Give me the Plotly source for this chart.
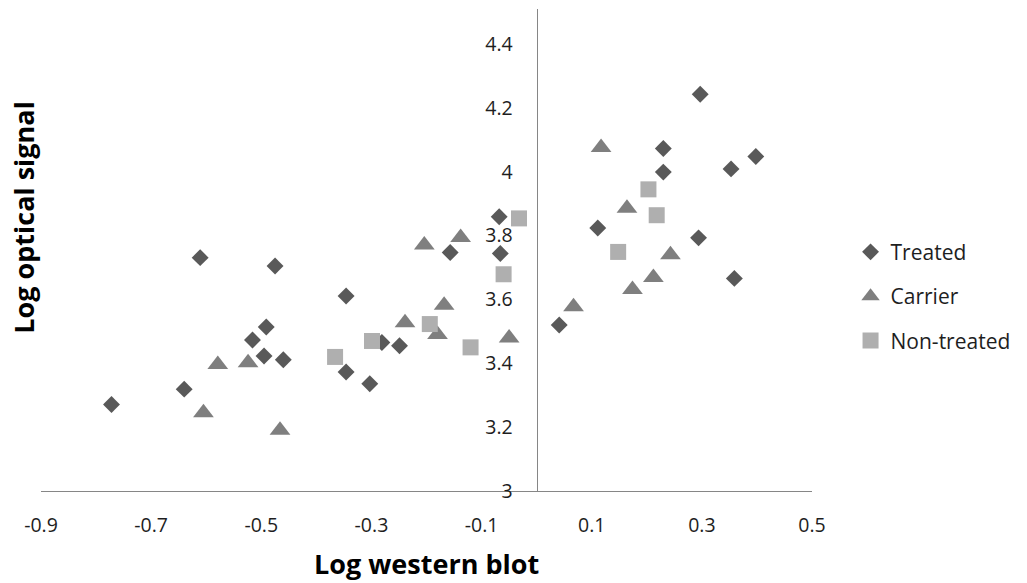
import plotly.graph_objects as go

# ---- data ----
treated_x = [-0.611, -0.475, -0.491, -0.516, -0.495, -0.460, -0.640, -0.772,
             -0.068, -0.157, -0.066, -0.346, -0.249, -0.346, -0.303, -0.281,
             0.297, 0.230, 0.230, 0.353, 0.398, 0.111, 0.294, 0.359, 0.041]
treated_y = [3.731, 3.705, 3.514, 3.473, 3.423, 3.411, 3.319, 3.271,
             3.859, 3.747, 3.744, 3.611, 3.455, 3.373, 3.336, 3.465,
             4.243, 4.073, 3.999, 4.009, 4.048, 3.824, 3.793, 3.666, 3.520]

carrier_x = [-0.579, -0.524, -0.605, -0.466, -0.204, -0.138, -0.168, -0.239,
             -0.180, -0.050, 0.117, 0.164, 0.243, 0.212, 0.174, 0.067]
carrier_y = [3.396, 3.402, 3.245, 3.190, 3.771, 3.794, 3.582, 3.527,
             3.490, 3.479, 4.076, 3.886, 3.740, 3.669, 3.631, 3.577]

nontreated_x = [-0.032, -0.060, -0.299, -0.194, -0.120, -0.366, 0.203, 0.218, 0.148]
nontreated_y = [3.854, 3.679, 3.470, 3.523, 3.450, 3.420, 3.945, 3.864, 3.749]

series_names = ["Treated", "Carrier", "Non-treated"]

x_tick_vals = [-0.9, -0.7, -0.5, -0.3, -0.1, 0.1, 0.3, 0.5]
x_tick_text = ["-0.9", "-0.7", "-0.5", "-0.3", "-0.1", "0.1", "0.3", "0.5"]
y_tick_vals = [3.0, 3.2, 3.4, 3.6, 3.8, 4.0, 4.2, 4.4]
y_tick_text = ["3", "3.2", "3.4", "3.6", "3.8", "4", "4.2", "4.4"]

x_title = "Log western blot"
y_title = "Log optical signal"

FONT = "Open Sans"
AXIS_COLOR = "#868686"
TEXT_COLOR = "#1e1e1e"

fig = go.Figure()
fig.add_trace(go.Scatter(
    x=treated_x, y=treated_y, mode="markers", name=series_names[0],
    legendgroup="a",
    marker=dict(symbol="diamond", size=13, color="#595959", line=dict(width=0)),
))
fig.add_trace(go.Scatter(
    x=carrier_x, y=carrier_y, mode="markers", name=series_names[1],
    legendgroup="b",
    marker=dict(symbol="triangle-up", size=18, color="#7f7f7f", line=dict(width=0)),
))
fig.add_trace(go.Scatter(
    x=nontreated_x, y=nontreated_y, mode="markers", name=series_names[2],
    legendgroup="c",
    marker=dict(symbol="square", size=16, color="#afafaf", line=dict(width=0)),
))

x_min, x_max = -0.9, 0.5
y_pos = (0 - x_min) / (x_max - x_min)

fig.update_layout(
    width=1027, height=583, autosize=False,
    margin=dict(l=41, r=215, t=9, b=92),
    paper_bgcolor="white", plot_bgcolor="white",
    font=dict(family=FONT, color=TEXT_COLOR),
    xaxis=dict(
        range=[x_min, x_max], tickvals=x_tick_vals, ticktext=x_tick_text,
        showgrid=False, zeroline=False, showline=True, linecolor=AXIS_COLOR,
        linewidth=1, ticks="", tickfont=dict(size=19.5, family=FONT, color=TEXT_COLOR),
        ticklabelstandoff=17,
    ),
    yaxis=dict(
        range=[3.0, 4.51], tickvals=y_tick_vals, ticktext=y_tick_text,
        anchor="free", position=y_pos,
        showgrid=False, zeroline=False, showline=True, linecolor=AXIS_COLOR,
        linewidth=1, ticks="", tickfont=dict(size=19.5, family=FONT, color=TEXT_COLOR),
        ticklabelstandoff=20,
    ),
    legend=dict(
        x=1.05, xanchor="left", y=0.538, yanchor="top",
        font=dict(size=21, family=FONT, color=TEXT_COLOR),
        tracegroupgap=14, bgcolor="rgba(0,0,0,0)", borderwidth=0,
    ),
    showlegend=True,
    annotations=[
        dict(text="<b>" + x_title + "</b>", xref="paper", yref="paper",
             x=0.5, y=-0.151, xanchor="center", yanchor="middle",
             showarrow=False, font=dict(size=27, family=FONT, color="black")),
        dict(text="<b>" + y_title + "</b>", xref="paper", yref="paper",
             x=-0.022, y=0.567, xanchor="center", yanchor="middle",
             textangle=-90, showarrow=False,
             font=dict(size=27, family=FONT, color="black")),
    ],
)

fig.write_html("out.html")
